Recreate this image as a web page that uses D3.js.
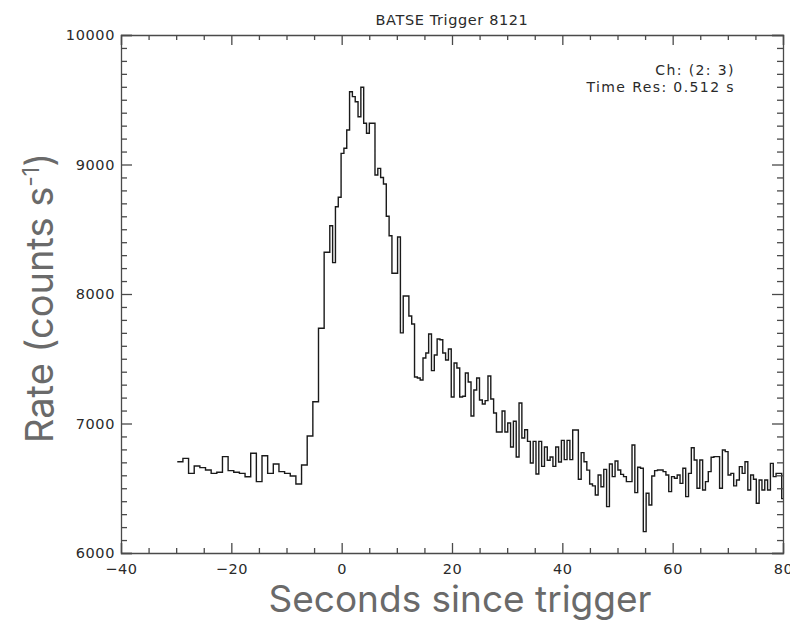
<!DOCTYPE html>
<html>
<head>
<meta charset="utf-8">
<script src="https://cdn.jsdelivr.net/npm/d3@7"></script>
<style>
  html, body { margin: 0; padding: 0; background: #fff; }
  svg { display: block; }
  .tick text { font-family: "DejaVu Sans", sans-serif; font-size: 14.5px; fill: #2a2a2a; letter-spacing: 0.6px; }
  .domain, .tick line { stroke: #4a4a4a; stroke-width: 1.3px; }
</style>
</head>
<body>
<svg id="chart" width="790" height="634"></svg>
<script>
// BATSE trigger 8121, channels 2-3 light curve
const title = "BATSE Trigger 8121";
const infoLines = ["Ch: (2: 3)", "Time Res: 0.512 s"];
const xTicks = [-40, -20, 0, 20, 40, 60, 80];
const yTicks = [6000, 7000, 8000, 9000, 10000];

// pre-trigger bins (1.024 s) then 0.512 s bins
const preStart = -29.8;
const preRes = 1.024;
const postRes = 0.512;
const preRates = [6705, 6731, 6615, 6672, 6659, 6641, 6615, 6623, 6744, 6636,
  6623, 6615, 6589, 6770, 6551, 6751, 6615, 6687, 6628, 6615,
  6595, 6533, 6680, 6903, 7168, 7735, 8322];
const postRates = [8527, 8242, 8674, 8747, 9086, 9125, 9266, 9562, 9524, 9485,
  9369, 9596, 9318, 9241, 9318, 9318, 8919, 8970, 8900, 8850,
  8600, 8450, 8160, 8160, 8440, 7700, 7985, 7985, 7830, 7768,
  7359, 7351, 7336, 7506, 7544, 7691, 7408, 7529, 7653, 7647,
  7544, 7490, 7575, 7205, 7467, 7428, 7205, 7210, 7390, 7320,
  7058, 7259, 7351, 7182, 7151, 7177, 7367, 7189, 7081, 6934,
  6934, 7097, 6934, 7004, 6819, 7017, 6741, 7158, 6888, 6952,
  6862, 6695, 6862, 6610, 6862, 6669, 6819, 6716, 6741, 6669,
  6819, 6703, 6870, 6721, 6870, 6721, 6950, 6950, 6570, 6775,
  6705, 6640, 6533, 6518, 6448, 6602, 6512, 6646, 6358, 6687,
  6590, 6711, 6641, 6607, 6590, 6551, 6551, 6834, 6466, 6662,
  6654, 6165, 6461, 6371, 6595, 6636, 6641, 6641, 6628, 6602,
  6474, 6590, 6577, 6602, 6538, 6654, 6435, 6615, 6813, 6718,
  6500, 6718, 6487, 6551, 6628, 6739, 6744, 6744, 6500, 6795,
  6783, 6602, 6615, 6518, 6564, 6667, 6615, 6705, 6487, 6602,
  6569, 6384, 6564, 6487, 6564, 6487, 6692, 6590, 6615, 6615,
  6420];

// bin start times and values as step points
const points = [];
preRates.forEach((v, i) => points.push({ t: preStart + i * preRes, v }));
const postStart = preStart + preRates.length * preRes;
postRates.forEach((v, i) => points.push({ t: postStart + i * postRes, v }));
points.push({ t: postStart + postRates.length * postRes, v: postRates[postRates.length - 1] });

const svg = d3.select("#chart");
const margin = { left: 121, right: 7, top: 35, bottom: 81 };
const W = 790, H = 634;
const x = d3.scaleLinear().domain([-40, 80]).range([margin.left, W - margin.right]);
const y = d3.scaleLinear().domain([6000, 10000]).range([H - margin.bottom, margin.top]);

svg.append("defs").append("clipPath").attr("id", "plotClip")
  .append("rect")
  .attr("x", x(-40)).attr("y", y(10000))
  .attr("width", x(80) - x(-40)).attr("height", y(6000) - y(10000));

// light curve
svg.append("path")
  .datum(points)
  .attr("clip-path", "url(#plotClip)")
  .attr("fill", "none")
  .attr("stroke", "#1a1a1a")
  .attr("stroke-width", 1.4)
  .attr("d", d3.line().x(d => x(d.t)).y(d => y(d.v)).curve(d3.curveStepAfter));

const xMinor = d3.range(-40, 81, 5).filter(v => v % 20 !== 0);
const yMinor = d3.range(6000, 10001, 100).filter(v => v % 1000 !== 0);

// bottom axis with labels, ticks pointing inward
svg.append("g").attr("transform", `translate(0,${y(6000)})`)
  .call(d3.axisBottom(x).tickValues(xTicks).tickSize(-10).tickPadding(10))
  .call(g => g.selectAll(".tick text").attr("dy", "0.75em"));
svg.append("g").attr("transform", `translate(0,${y(6000)})`)
  .call(d3.axisBottom(x).tickValues(xMinor).tickSize(-5).tickFormat(""))
  .call(g => g.select(".domain").remove());
// top axis
svg.append("g").attr("transform", `translate(0,${y(10000)})`)
  .call(d3.axisTop(x).tickValues(xTicks).tickSize(-10).tickFormat(""));
svg.append("g").attr("transform", `translate(0,${y(10000)})`)
  .call(d3.axisTop(x).tickValues(xMinor).tickSize(-5).tickFormat(""))
  .call(g => g.select(".domain").remove());
// left axis with labels
svg.append("g").attr("transform", `translate(${x(-40)},0)`)
  .call(d3.axisLeft(y).tickValues(yTicks).tickSize(-11).tickPadding(6).tickFormat(d3.format("d")));
svg.append("g").attr("transform", `translate(${x(-40)},0)`)
  .call(d3.axisLeft(y).tickValues(yMinor).tickSize(-6).tickFormat(""))
  .call(g => g.select(".domain").remove());
// right axis
svg.append("g").attr("transform", `translate(${x(80)},0)`)
  .call(d3.axisRight(y).tickValues(yTicks).tickSize(-11).tickFormat(""));
svg.append("g").attr("transform", `translate(${x(80)},0)`)
  .call(d3.axisRight(y).tickValues(yMinor).tickSize(-6).tickFormat(""))
  .call(g => g.select(".domain").remove());

// title
svg.append("text")
  .attr("x", (x(-40) + x(80)) / 2).attr("y", 25)
  .attr("text-anchor", "middle")
  .style("font-family", "DejaVu Sans, sans-serif")
  .style("font-size", "14.5px")
  .style("letter-spacing", "0.6px")
  .style("fill", "#2a2a2a")
  .text(title);

// channel / resolution note
svg.selectAll(".info").data(infoLines).enter().append("text")
  .attr("class", "info")
  .attr("x", 735).attr("y", (d, i) => 75 + i * 17)
  .attr("text-anchor", "end")
  .style("font-family", "DejaVu Sans, sans-serif")
  .style("font-size", "14px")
  .style("letter-spacing", "1.4px")
  .style("fill", "#2a2a2a")
  .text(d => d);

// axis titles
svg.append("text")
  .attr("x", 460).attr("y", 612)
  .attr("text-anchor", "middle")
  .style("font-family", "Inter, sans-serif")
  .style("font-size", "37px")
  .style("fill", "#6a6a6a")
  .text("Seconds since trigger");

const yLab = svg.append("text")
  .attr("transform", `translate(53,${298}) rotate(-90)`)
  .attr("text-anchor", "middle")
  .style("font-family", "Inter, sans-serif")
  .style("font-size", "38px")
  .style("fill", "#6a6a6a");
yLab.append("tspan").text("Rate (counts s");
yLab.append("tspan").attr("dy", -14).style("font-size", "23px").text("-1");
yLab.append("tspan").attr("dy", 14).text(")");
</script>
</body>
</html>
